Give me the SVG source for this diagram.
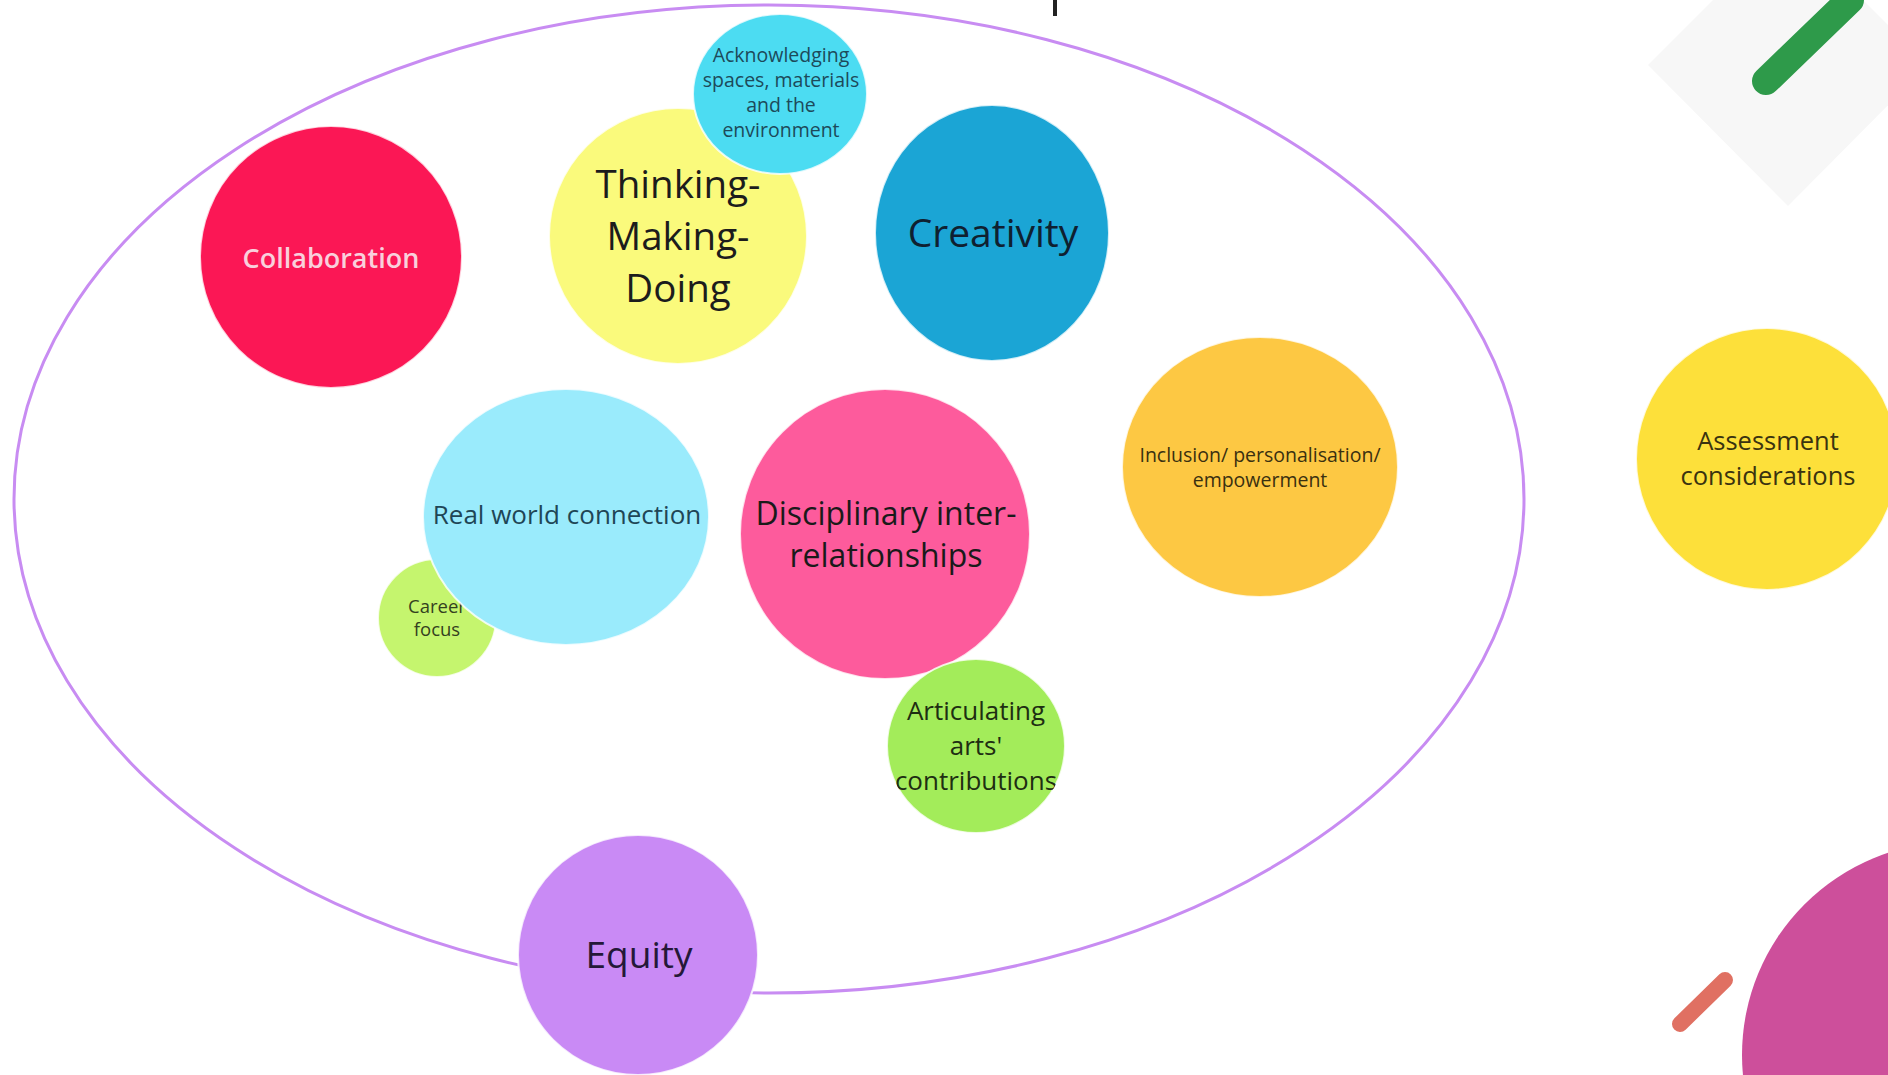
<svg xmlns="http://www.w3.org/2000/svg" width="1888" height="1075" viewBox="0 0 1888 1075">
  <style>
    .bubble { stroke: #ffffff; stroke-width: 2; stroke-opacity: 0.8; }
    .lbl { font-family: "Open Sans", Lato, "Liberation Sans", sans-serif; text-anchor: middle; fill: #1c1c1c; }
    .boundary { fill: none; stroke: #c88cf2; stroke-width: 3; }
  </style>
  <defs>
    <clipPath id="clipArts"><ellipse cx="976" cy="746" rx="89" ry="87"/></clipPath>
  </defs>

  <rect x="0" y="0" width="1888" height="1075" fill="#ffffff"/>

  <!-- decorative background pieces -->
  <g id="decor">
    <polygon points="1788,-75 1928,65 1788,206 1648,65" fill="#f7f7f7"/>
    <line x1="1766" y1="81" x2="1850" y2="0" stroke="#2e9a4a" stroke-width="28" stroke-linecap="round"/>
    <line x1="1680" y1="1024" x2="1725" y2="980" stroke="#e07062" stroke-width="16" stroke-linecap="round"/>
    <circle cx="1955" cy="1055" r="213" fill="#cd4f9b"/>
    <rect x="1053" y="0" width="4" height="16" fill="#222222"/>
  </g>

  <!-- enclosing boundary -->
  <g id="connectors">
    <ellipse class="boundary" cx="769" cy="499" rx="755" ry="494"/>
  </g>

  <g id="node-collaboration">
    <circle class="bubble" cx="331" cy="257" r="131" fill="#fb1755"/>
    <text class="lbl" x="331" y="268" font-size="27" font-weight="600" style="fill:#f9d0dc">Collaboration</text>
  </g>

  <g id="node-thinking">
    <ellipse class="bubble" cx="678" cy="236" rx="129" ry="128" fill="#fafa7c"/>
    <text class="lbl" x="678" y="198" font-size="38.5">Thinking-</text>
    <text class="lbl" x="678" y="250" font-size="38.5">Making-</text>
    <text class="lbl" x="678" y="302" font-size="38.5">Doing</text>
  </g>

  <g id="node-acknowledging">
    <ellipse class="bubble" cx="780" cy="94" rx="87" ry="80" fill="#4cdcf2"/>
    <text class="lbl" x="781" y="62" font-size="19.5" style="fill:#1d4a5a">Acknowledging</text>
    <text class="lbl" x="781" y="87" font-size="19.5" style="fill:#1d4a5a">spaces, materials</text>
    <text class="lbl" x="781" y="112" font-size="19.5" style="fill:#1d4a5a">and the</text>
    <text class="lbl" x="781" y="137" font-size="19.5" style="fill:#1d4a5a">environment</text>
  </g>

  <g id="node-creativity">
    <ellipse class="bubble" cx="992" cy="233" rx="117" ry="128" fill="#1ba5d5"/>
    <text class="lbl" x="993" y="247" font-size="39" style="fill:#0f2030">Creativity</text>
  </g>

  <g id="node-inclusion">
    <ellipse class="bubble" cx="1260" cy="467" rx="138" ry="130" fill="#fdc843"/>
    <text class="lbl" x="1260" y="462" font-size="19.5" style="fill:#3a3010">Inclusion/ personalisation/</text>
    <text class="lbl" x="1260" y="487" font-size="19.5" style="fill:#3a3010">empowerment</text>
  </g>

  <g id="node-career">
    <circle class="bubble" cx="437" cy="618" r="59" fill="#c5f56e"/>
    <text class="lbl" x="437" y="613" font-size="18.5" style="fill:#34401e">Career</text>
    <text class="lbl" x="437" y="636" font-size="18.5" style="fill:#34401e">focus</text>
  </g>

  <g id="node-realworld">
    <ellipse class="bubble" cx="566" cy="517" rx="143" ry="128" fill="#9aebfc"/>
    <text class="lbl" x="567" y="524" font-size="26" style="fill:#1f4656">Real world connection</text>
  </g>

  <g id="node-disciplinary">
    <circle class="bubble" cx="885" cy="534" r="145" fill="#fd5b9c"/>
    <text class="lbl" x="886" y="525" font-size="32" style="fill:#1a1a1a">Disciplinary inter-</text>
    <text class="lbl" x="886" y="567" font-size="32" style="fill:#1a1a1a">relationships</text>
  </g>

  <g id="node-articulating">
    <ellipse class="bubble" cx="976" cy="746" rx="89" ry="87" fill="#a3ec5a"/>
    <g clip-path="url(#clipArts)">
      <text class="lbl" x="976" y="720" font-size="26" style="fill:#1e2e12">Articulating</text>
      <text class="lbl" x="976" y="755" font-size="26" style="fill:#1e2e12">arts'</text>
      <text class="lbl" x="976" y="790" font-size="26" style="fill:#1e2e12">contributions</text>
    </g>
  </g>

  <g id="node-equity">
    <circle class="bubble" cx="638" cy="955" r="120" fill="#c98af5"/>
    <text class="lbl" x="639" y="968" font-size="37" style="fill:#241838">Equity</text>
  </g>

  <g id="node-assessment">
    <circle class="bubble" cx="1767" cy="459" r="131" fill="#fde03a"/>
    <text class="lbl" x="1768" y="450" font-size="25.5" style="fill:#3a3310">Assessment</text>
    <text class="lbl" x="1768" y="485" font-size="25.5" style="fill:#3a3310">considerations</text>
  </g>
</svg>
